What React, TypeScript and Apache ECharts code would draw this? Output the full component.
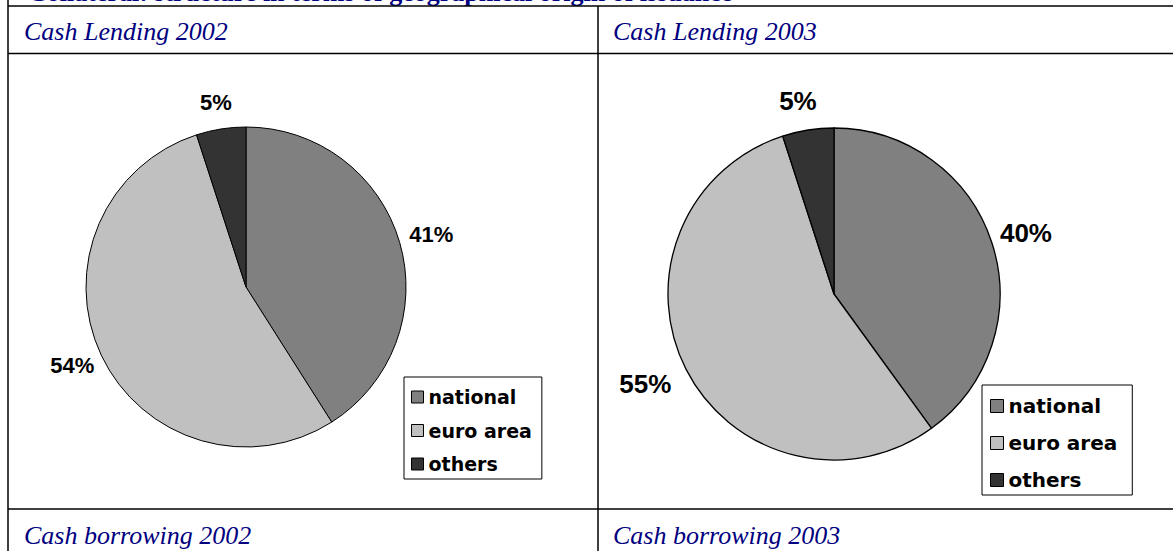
import React, { useEffect, useRef } from "react";
import * as echarts from "echarts";

const categories = ["national", "euro area", "others"];
const lending2002 = [41, 54, 5];
const lending2003 = [40, 55, 5];
const sliceColors = ["#808080", "#c0c0c0", "#333333"];
const panelTitles = ["Cash Lending 2002", "Cash Lending 2003", "Cash borrowing 2002", "Cash borrowing 2003"];
const pageTitle = "Collateral: structure in terms of geographical origin of issuance";

const SANS = "'Liberation Sans', Arial, Helvetica, sans-serif";
const LEGEND_FONT = "'DejaVu Sans', 'Liberation Sans', Arial, sans-serif";
const SERIF = "'Liberation Serif', 'Times New Roman', serif";
const NAVY = "#000080";

// label nudges (pixels) to mimic the original's label placement
const labelNudge2002 = [[0, 1], [1, -4], [0, 6]];
const labelNudge2003 = [[-3, 2], [-6, -3], [-4, 9]];

function pieData(values: number[]) {
  return categories.map((name, i) => ({
    name,
    value: values[i],
    itemStyle: { color: sliceColors[i] },
  }));
}

function makePie(values: number[], center: number[], r: number, bw: number) {
  return {
    type: "pie",
    center,
    radius: r,
    startAngle: 90,
    clockwise: true,
    data: pieData(values),
    label: { show: false },
    labelLine: { show: false },
    itemStyle: { borderColor: "#000", borderWidth: bw },
    emphasis: { disabled: true },
    silent: true,
  };
}

function makeLabelRing(values: number[], center: number[], r0: number, r1: number, fs: number, nudge: number[][]) {
  return {
    type: "pie",
    center,
    radius: [r0, r1],
    startAngle: 90,
    clockwise: true,
    data: categories.map((name, i) => ({ name, value: values[i], label: { offset: nudge[i] } })),
    itemStyle: { color: "rgba(0,0,0,0)", borderWidth: 0 },
    label: {
      show: true,
      position: "inside",
      color: "#000",
      fontFamily: SANS,
      fontWeight: "bold",
      fontSize: fs,
      formatter: (p: any) => `${p.value}%`,
    },
    labelLine: { show: false },
    emphasis: { disabled: true },
    legendHoverLink: false,
    silent: true,
  };
}

function makeLegend(left: number, top: number, fs: number, gap: number, lh: number, icon: number, padding: number[]) {
  return {
    orient: "vertical",
    left,
    top,
    data: categories,
    icon: "rect",
    itemWidth: icon,
    itemHeight: icon,
    itemGap: gap,
    padding,
    borderColor: "#000",
    borderWidth: 1,
    backgroundColor: "#fff",
    selectedMode: false,
    itemStyle: { borderColor: "#000", borderWidth: 1 },
    textStyle: { fontFamily: LEGEND_FONT, fontWeight: "bold", fontSize: fs, color: "#000", lineHeight: lh },
  };
}

export default function App() {
  const ref = useRef<HTMLDivElement>(null);
  useEffect(() => {
    if (!ref.current) return;
    const chart = echarts.init(ref.current, undefined, { renderer: "svg" });
    const lineStyle = { stroke: "#000", lineWidth: 1.5 };
    const titleText = (text: string, x: number, y: number) => ({
      type: "text",
      x,
      y,
      style: {
        text,
        fill: NAVY,
        font: `italic 26px ${SERIF}`,
        verticalAlign: "middle",
      },
      silent: true,
    });
    chart.setOption({
      animation: false,
      backgroundColor: "#fff",
      legend: [
        makeLegend(404, 377, 19, 13.5, 20, 12, [10, 10, 5, 7]),
        makeLegend(982, 385, 20, 15, 22, 13, [10, 15, 4, 8]),
      ],
      series: [
        makePie(lending2002, [246, 287], 160, 1),
        makePie(lending2003, [834, 294], 166, 1.3),
        makeLabelRing(lending2002, [246, 287], 178, 202, 22, labelNudge2002),
        makeLabelRing(lending2003, [834, 294], 190, 214, 26, labelNudge2003),
      ],
      graphic: [
        {
          type: "text",
          x: 28,
          y: -8,
          style: {
            text: pageTitle,
            fill: NAVY,
            font: `bold 26px ${SERIF}`,
            verticalAlign: "middle",
          },
          silent: true,
        },
        { type: "line", shape: { x1: 8, y1: 6, x2: 1173, y2: 6 }, style: lineStyle, silent: true },
        { type: "line", shape: { x1: 8, y1: 53.5, x2: 1173, y2: 53.5 }, style: lineStyle, silent: true },
        { type: "line", shape: { x1: 8, y1: 509, x2: 1173, y2: 509 }, style: lineStyle, silent: true },
        { type: "line", shape: { x1: 8, y1: 0, x2: 8, y2: 551 }, style: lineStyle, silent: true },
        { type: "line", shape: { x1: 598, y1: 6, x2: 598, y2: 551 }, style: lineStyle, silent: true },
        titleText(panelTitles[0], 24, 31.5),
        titleText(panelTitles[1], 613, 31.5),
        titleText(panelTitles[2], 24, 535),
        titleText(panelTitles[3], 613, 535),
      ],
    });
    return () => chart.dispose();
  }, []);
  return (
    <div
      ref={ref}
      style={{ position: "absolute", left: 0, top: 0, width: 1173, height: 551 }}
    />
  );
}
